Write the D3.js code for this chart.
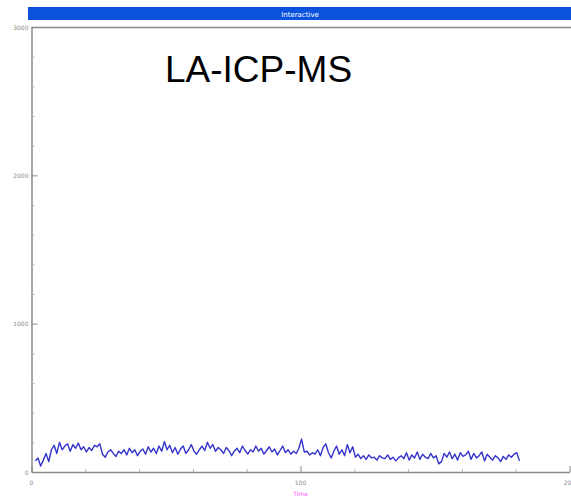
<!DOCTYPE html>
<html>
<head>
<meta charset="utf-8">
<script src="https://cdn.jsdelivr.net/npm/d3@7"></script>
<style>
  html, body { margin: 0; padding: 0; background: #fff; }
  svg { display: block; }
</style>
</head>
<body>
<svg id="chart" width="571" height="502"></svg>
<script>
// Signal intensity per second of acquisition
const signal = [
  75, 95, 40, 80, 125, 70, 150, 180, 125, 200,
  150, 175, 190, 140, 185, 160, 195, 150, 170, 135,
  165, 145, 180, 170, 190, 120, 100, 135, 150, 125,
  105, 140, 125, 150, 115, 160, 130, 150, 110, 140,
  155, 120, 170, 135, 160, 125, 175, 140, 205, 150,
  180, 130, 165, 120, 155, 175, 125, 150, 185, 140,
  120, 150, 175, 145, 200, 160, 185, 140, 165, 150,
  125, 165, 145, 110, 140, 160, 130, 175, 145, 120,
  150, 135, 175, 140, 160, 120, 145, 170, 135, 155,
  115, 145, 175, 130, 150, 120, 140, 125, 160, 222,
  135, 140, 115, 130, 120, 150, 110, 165, 190, 130,
  95, 140, 175, 120, 150, 110, 185, 130, 170, 100,
  120, 90, 110, 85, 115, 95, 100, 80, 110, 95,
  90, 115, 85, 100, 75, 95, 110, 90, 130, 80,
  115, 95, 135, 85, 120, 100, 90, 125, 95, 110,
  55, 70, 125, 100, 135, 90, 120, 80, 130, 105,
  115, 140, 85, 125, 95, 110, 135, 75, 120, 100,
  80, 110, 95, 70, 105, 85, 115, 100, 120, 130, 75
];
const times = signal.map((_, i) => i + 1.4);

const yMajor = [0, 1000, 2000, 3000];
const yMinor = [200, 400, 600, 800, 1200, 1400, 1600, 1800, 2200, 2400, 2600, 2800];
const xMajor = [0, 100, 200];
const xMinor = [20, 40, 60, 80, 120, 140, 160, 180];

const chartTitle = "Interactive";
const annotation = "LA-ICP-MS";
const xTitle = "Time";

const svg = d3.select("#chart");
const plot = { left: 31.5, right: 569.5, top: 27, bottom: 472 };

const x = d3.scaleLinear().domain([0, 200]).range([plot.left, plot.right]);
const y = d3.scaleLinear().domain([0, 3000]).range([plot.bottom, plot.top]);

// Window caption bar
svg.append("rect")
  .attr("x", 28).attr("y", 7).attr("width", 543).attr("height", 13)
  .attr("fill", "#0a52dc");
svg.append("text")
  .attr("x", 300).attr("y", 16.5)
  .attr("text-anchor", "middle")
  .attr("font-family", "DejaVu Sans, sans-serif")
  .attr("font-size", 7)
  .attr("fill", "#fff")
  .text(chartTitle);

// Plot frame: top edge
svg.append("line")
  .attr("x1", plot.left).attr("x2", 571).attr("y1", plot.top + 0.5).attr("y2", plot.top + 0.5)
  .attr("stroke", "#8a8a8a").attr("stroke-width", 1.5);

// Y axis
const yAxis = d3.axisRight(y).tickValues(yMajor).tickSize(6).tickSizeOuter(0).tickFormat("");
const gy = svg.append("g").attr("transform", `translate(${plot.left},0)`).call(yAxis);
gy.select(".domain").attr("stroke", "#8a8a8a").attr("stroke-width", 1.5);
gy.selectAll(".tick line").attr("stroke", "#8a8a8a");
const yAxisMinor = d3.axisRight(y).tickValues(yMinor).tickSize(3).tickFormat("");
const gy2 = svg.append("g").attr("transform", `translate(${plot.left},0)`).call(yAxisMinor);
gy2.select(".domain").remove();
gy2.selectAll(".tick line").attr("stroke", "#b0b0b0");
svg.append("g").selectAll("text").data(yMajor).join("text")
  .attr("x", plot.left - 3).attr("y", d => y(d) + 2.5)
  .attr("text-anchor", "end")
  .attr("font-family", "DejaVu Sans, sans-serif")
  .attr("font-size", 6)
  .attr("fill", "#8a8a8a")
  .text(d => d);

// X axis
const xAxis = d3.axisTop(x).tickValues(xMajor).tickSize(6).tickSizeOuter(0).tickFormat("");
const gx = svg.append("g").attr("transform", `translate(0,${plot.bottom})`).call(xAxis);
gx.select(".domain").attr("stroke", "#8a8a8a").attr("stroke-width", 1.5);
gx.selectAll(".tick line").attr("stroke", "#8a8a8a");
const xAxisMinor = d3.axisTop(x).tickValues(xMinor).tickSize(3).tickFormat("");
const gx2 = svg.append("g").attr("transform", `translate(0,${plot.bottom})`).call(xAxisMinor);
gx2.select(".domain").remove();
gx2.selectAll(".tick line").attr("stroke", "#b0b0b0");
svg.append("g").selectAll("text").data(xMajor).join("text")
  .attr("x", d => x(d)).attr("y", plot.bottom + 13)
  .attr("text-anchor", "middle")
  .attr("font-family", "DejaVu Sans, sans-serif")
  .attr("font-size", 6)
  .attr("fill", "#8a8a8a")
  .text(d => d);
svg.append("text")
  .attr("x", x(100)).attr("y", plot.bottom + 24)
  .attr("text-anchor", "middle")
  .attr("font-family", "DejaVu Sans, sans-serif")
  .attr("font-size", 6)
  .attr("fill", "#ff55ff")
  .text(xTitle);

// Signal trace
const line = d3.line()
  .x((d, i) => x(times[i]))
  .y(d => y(d));
svg.append("path")
  .datum(signal)
  .attr("d", line)
  .attr("fill", "none")
  .attr("stroke", "#3434cc")
  .attr("stroke-width", 1.4)
  .attr("stroke-linejoin", "round");

// Technique label
svg.append("text")
  .attr("x", 165).attr("y", 82)
  .attr("font-family", "Liberation Sans, Arial, sans-serif")
  .attr("font-size", 37)
  .attr("fill", "#000")
  .text(annotation);
</script>
</body>
</html>
